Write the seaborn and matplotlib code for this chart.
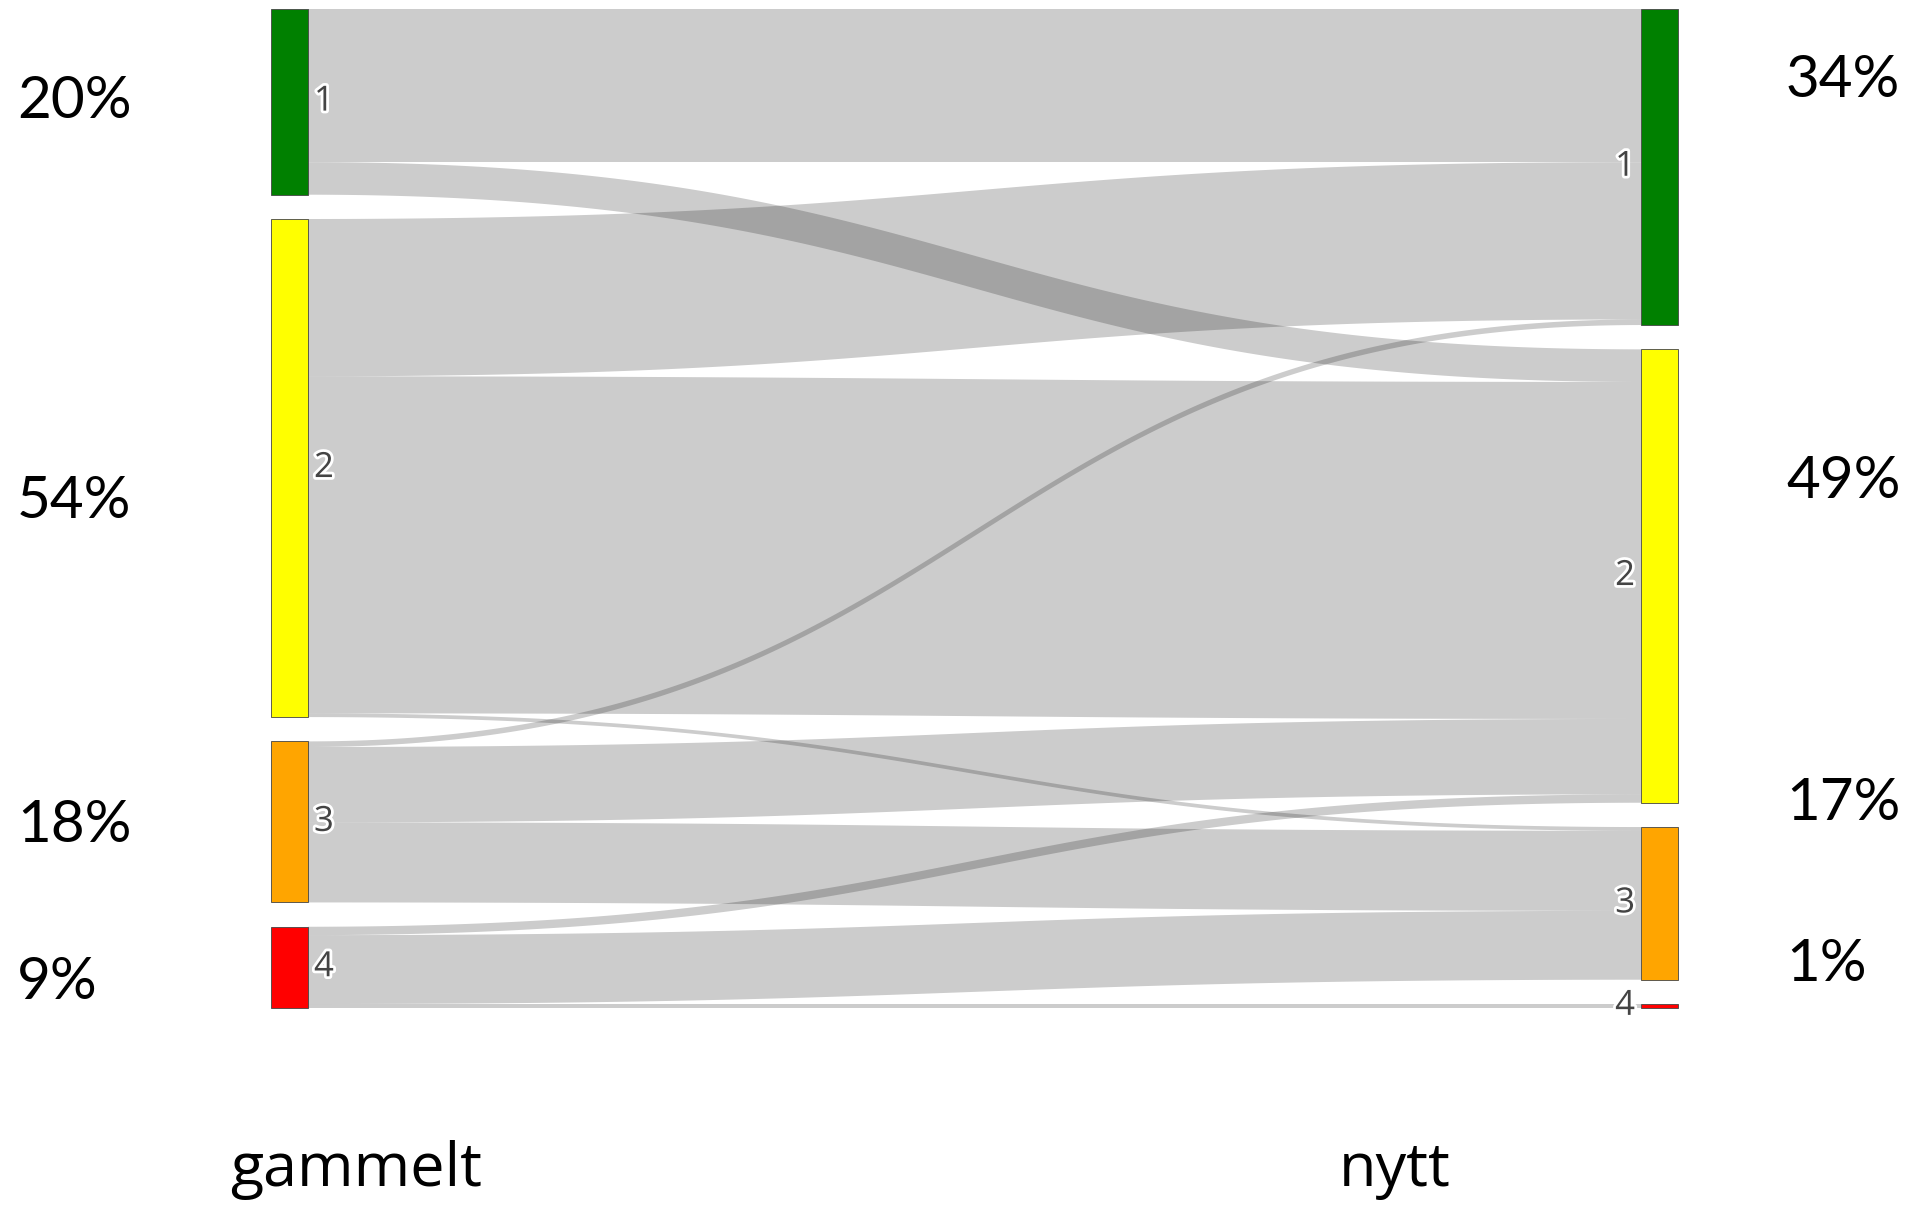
"""
Sankey: gammelt -> nytt, tegnet med matplotlib/seaborn
"""

import numpy as np
import matplotlib.pyplot as plt
import matplotlib.patheffects as pe
import seaborn as sns

# Noder og farger
kategorier = ['1', '2', '3', '4']
node_farger = ['#008000', '#ffff00', '#ffa500', '#ff0000']

# Strømmer fra gammelt (kilde) til nytt (maal), i prosent av total
kilde = [0, 0, 1, 1, 1, 2, 2, 2, 3, 3, 3]
maal = [0, 1, 0, 1, 2, 0, 1, 2, 1, 2, 3]
verdi = [16.5, 3.5, 16.9, 36.2, 0.4, 0.6, 8.1, 8.6, 0.9, 7.4, 0.4]

# Prosenttekster ved siden av nodene
pst_gammelt = ['20%', '54%', '18%', '9%']
pst_nytt = ['34%', '49%', '17%', '1%']
kolonne_navn = ['gammelt', 'nytt']

sns.set_theme(style='white')

W, H = 1908, 1207
fig = plt.figure(figsize=(W / 100, H / 100), dpi=100)
ax = fig.add_axes([0, 0, 1, 1])

# Oppsett (piksler)
k = 9.31          # piksler per prosentenhet
topp_px = 8.5
gap = 24.3 / k
x_venstre, x_hoyre, bredde = 271, 1641, 37

ax.set_xlim(0, W)
ax.set_ylim((H - topp_px) / k, -topp_px / k)
ax.axis('off')

kilde = np.array(kilde)
maal = np.array(maal)
verdi = np.array(verdi)
n = len(kategorier)

sum_v = np.array([verdi[kilde == i].sum() for i in range(n)])
sum_h = np.array([verdi[maal == i].sum() for i in range(n)])
topp_v = np.concatenate([[0], np.cumsum(sum_v + gap)[:-1]])
topp_h = np.concatenate([[0], np.cumsum(sum_h + gap)[:-1]])


def band(x0, x1, y0a, y0b, y1a, y1b):
    t = np.linspace(0, 1, 200)
    xm = (x0 + x1) / 2
    bx = (1 - t) ** 3 * x0 + 3 * (1 - t) ** 2 * t * xm + 3 * (1 - t) * t ** 2 * xm + t ** 3 * x1
    s = 3 * t ** 2 - 2 * t ** 3
    ovre = y0a + (y1a - y0a) * s
    nedre = y0b + (y1b - y0b) * s
    return np.concatenate([bx, bx[::-1]]), np.concatenate([ovre, nedre[::-1]])


# Startpunkt for hver strøm
ut_pos = topp_v.copy()
inn_pos = topp_h.copy()
start = np.zeros(len(verdi))
slutt = np.zeros(len(verdi))
for i in np.lexsort((maal, kilde)):
    start[i] = ut_pos[kilde[i]]
    ut_pos[kilde[i]] += verdi[i]
for i in np.lexsort((kilde, maal)):
    slutt[i] = inn_pos[maal[i]]
    inn_pos[maal[i]] += verdi[i]

# Strømmer
for i in range(len(verdi)):
    bx, by = band(x_venstre + bredde, x_hoyre,
                  start[i], start[i] + verdi[i], slutt[i], slutt[i] + verdi[i])
    ax.fill(bx, by, color='black', alpha=0.2, lw=0)

# Noder
ax.bar(np.full(n, x_venstre + bredde / 2), sum_v, bottom=topp_v, width=bredde,
       color=node_farger, edgecolor='#444444', linewidth=0.6)
ax.bar(np.full(n, x_hoyre + bredde / 2), sum_h, bottom=topp_h, width=bredde,
       color=node_farger, edgecolor='#444444', linewidth=0.6)

halo = [pe.withStroke(linewidth=4, foreground='white')]
etikett_font = ['Open Sans', 'DejaVu Sans']
for i in range(n):
    ax.text(x_venstre + bredde + 6, topp_v[i] + sum_v[i] / 2, kategorier[i],
            ha='left', va='center', fontsize=25, color='#444444',
            family=etikett_font, path_effects=halo)
    ax.text(x_hoyre - 6, topp_h[i] + sum_h[i] / 2, kategorier[i],
            ha='right', va='center', fontsize=25, color='#444444',
            family=etikett_font, path_effects=halo)

# Prosenttekster (grunnlinje i piksler)
pst_font = ['Lato', 'DejaVu Sans']
y_gammelt = [118, 518, 842, 999]
y_nytt = [97, 498, 820, 981]
for tekst, y in zip(pst_gammelt, y_gammelt):
    fig.text(17 / W, 1 - y / H, tekst, ha='left', va='baseline',
             fontsize=42, color='black', family=pst_font)
for tekst, y in zip(pst_nytt, y_nytt):
    fig.text(1786 / W, 1 - y / H, tekst, ha='left', va='baseline',
             fontsize=42, color='black', family=pst_font)

# Kolonnenavn nederst
for navn, xc in zip(kolonne_navn, [356, 1395]):
    fig.text(xc / W, 1 - 1186 / H, navn, ha='center', va='baseline',
             fontsize=44, color='black', family=['Open Sans', 'DejaVu Sans'])

fig.savefig('out.png', dpi=100)
